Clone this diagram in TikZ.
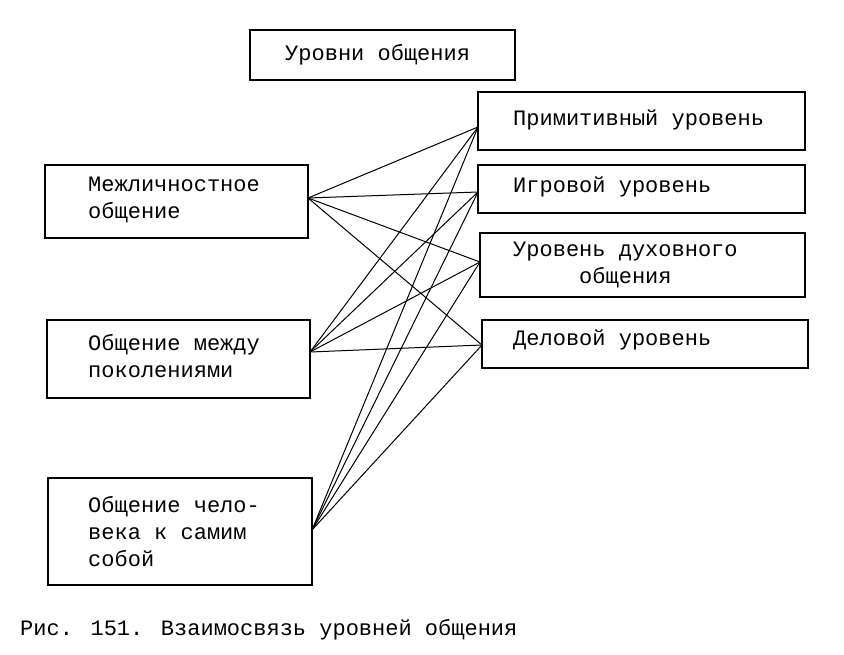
\documentclass[tikz,border=0pt]{standalone}
\usepackage{fontspec}
\setmainfont{Liberation Mono}
\begin{document}
\begin{tikzpicture}[x=1pt,y=-1pt,
  bx/.style={draw,line width=1.3pt},
  tx/.style={anchor=west,align=left,font=\fontsize{22}{27}\selectfont,inner sep=0pt},
  ln/.style={line width=1pt}]
\useasboundingbox[fill=white] (0,0) rectangle (844,654);
\node[bx,minimum width=265pt,minimum height=50pt] (t) at (382.5,55) {};
\node[tx] at (285,55) {Уровни общения};
\draw[bx] (45,165) rectangle (308,238); \coordinate (l1) at (308,198);
\node[tx] at (88,200) {Межличностное\\общение};
\draw[bx] (47,320) rectangle (310,398); \coordinate (l2) at (310,352);
\node[tx] at (88,356) {Общение между\\поколениями};
\draw[bx] (48,478) rectangle (312,585); \coordinate (l3) at (312,530);
\node[tx] at (88,532) {Общение чело-\\века к самим\\собой};
\draw[bx] (478,92) rectangle (805,150);
\node[tx] at (513,120) {Примитивный уровень};
\draw[bx] (478,165) rectangle (805,213);
\node[tx] at (513,187) {Игровой уровень};
\draw[bx] (480,233) rectangle (805,297);
\node[tx] at (513,265) {Уровень духовного\\\hspace*{3em}общения};
\draw[bx] (482,320) rectangle (808,368);
\node[tx] at (513,340) {Деловой уровень};
\coordinate (r1) at (478,127); \coordinate (r2) at (478,192);
\coordinate (r3) at (480,262); \coordinate (r4) at (482,345);
\foreach \l in {l1,l2,l3} \foreach \r in {r1,r2,r3,r4} \draw[ln] (\l) -- (\r);
\node[tx] (cap) at (20,630) {Рис. 151. Взаимосвязь уровней общения};
\end{tikzpicture}
\end{document}
